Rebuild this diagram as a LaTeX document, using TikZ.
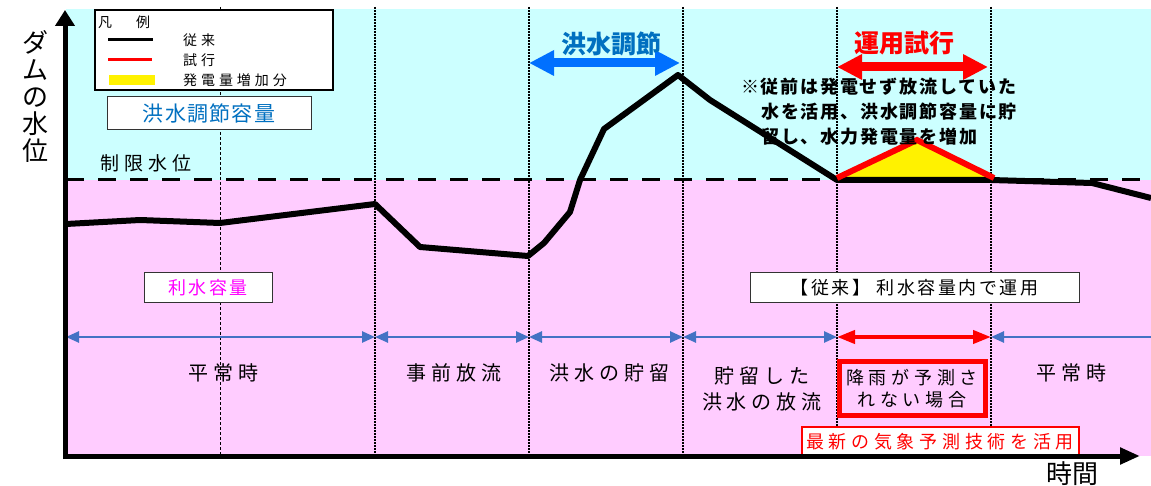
\documentclass[tikz,border=0pt]{standalone}
\usepackage{fontspec}
\setmainfont{Noto Sans CJK JP}
\usetikzlibrary{arrows.meta}

\definecolor{floodcyan}{RGB}{204,255,255}
\definecolor{waterpink}{RGB}{255,204,255}
\definecolor{floodblue}{RGB}{0,112,192}
\definecolor{arrowblue}{RGB}{0,112,255}
\definecolor{periodblue}{RGB}{68,114,196}
\definecolor{usemagenta}{RGB}{255,0,255}

\begin{document}
\begin{tikzpicture}
[
x=1pt, y=-1pt,
phase/.style={
% The font:
font=\fontsize{20}{26}\selectfont\addfontfeatures{LetterSpace=25},
% The text:
align=center,
inner sep=0pt,
},
small/.style={
% The font:
font=\fontsize{14}{16}\selectfont\addfontfeatures{LetterSpace=28},
anchor=west,
inner sep=0pt,
},
box/.style={
% The shape:
rectangle,
% The border:
draw=black!80,
line width=1pt,
% The filling:
fill=white,
inner sep=0pt,
font=\fontsize{18}{20}\selectfont\addfontfeatures{LetterSpace=14},
},
title/.style={
% The font:
font=\fontsize{25}{28}\selectfont\bfseries,
inner sep=0pt,
},
divider/.style={
% a hatched separator
black,
line width=2.5pt,
dash pattern=on 2pt off 1pt,
},
thindivider/.style={
black,
line width=0.8pt,
dash pattern=on 3pt off 2pt,
},
level/.style={
% the water level
line width=6pt,
line join=round,
},
period/.style={
periodblue,
line width=2.5pt,
{Triangle[length=13pt,width=11pt]}-{Triangle[length=13pt,width=11pt]},
},
bigarrow/.style={
line width=9pt,
{Triangle[length=25pt,width=24pt]}-{Triangle[length=25pt,width=24pt]},
},
]
    \useasboundingbox (0,0) rectangle (1151,486);

    % background
    \fill[floodcyan] (66,9) rectangle (1151,180);
    \fill[waterpink] (66,180) rectangle (1151,456);

    % dividers
    \draw[thindivider] (220,7) -- (220,456);
    \foreach \x in {375,529,683,837,991}
        \draw[divider] (\x,7) -- (\x,456);

    % limit level
    \draw[line width=3pt, dash pattern=on 18pt off 14pt] (66,180) -- (1151,180);

    % extra power generation
    \fill[yellow] (837,180) -- (917,140) -- (993,180) -- cycle;
    \draw[level] plot coordinates {(66,224) (140,220) (220,223) (375,204) (420,247)
        (528,256) (544,243) (570,212) (580,180) (604,129) (678,75) (710,100)
        (837,180) (991,180) (1092,183) (1151,198)};
    \draw[red, line width=6pt] (837,178) -- (917,140) -- (994,178);

    % legend
    \node[draw, line width=1.5pt, fill=white, minimum width=238pt, minimum height=80pt,
        inner sep=0pt] (legend) at (214,50) {};
    \node[small, font=\fontsize{14}{16}\selectfont] (legtitle) at (98,22) {凡\hspace{24pt}例};
    \draw[line width=3pt] (108,40) -- (153,40);
    \draw[red, line width=3pt] (108,60) -- (152,60);
    \fill[yellow] (109,75) rectangle (155,85);
    \node[small] (legold) at (183,40) {従来};
    \node[small] (legtrial) at (183,60) {試行};
    \node[small] (leggain) at (183,80) {発電量増加分};

    % capacities
    \node[box, minimum width=204pt, minimum height=33pt, text=floodblue,
        font=\fontsize{21}{24}\selectfont\addfontfeatures{LetterSpace=6}]
        (floodcap) at (209,113.5) {洪水調節容量};
    \node[phase, font=\fontsize{19}{22}\selectfont\addfontfeatures{LetterSpace=25}]
        (limit) at (146,163) {制限水位};
    \node[box, minimum width=128pt, minimum height=30pt, text=usemagenta]
        (watercap) at (208,288) {利水容量};
    \node[box, minimum width=329pt, minimum height=30pt]
        (oldway) at (914.5,288) {【従来】 利水容量内で運用};

    % flood control and trial
    \coordinate (f0) at (529,63);
    \coordinate (f1) at (680,63);
    \coordinate (r0) at (837,67);
    \coordinate (r1) at (988,67);
    \draw[bigarrow, arrowblue] (f0) -- (f1);
    \draw[bigarrow, red] (r0) -- (r1);
    \node[title, text=floodblue] (flood) at (611,44) {洪水調節};
    \node[title, text=red] (trial) at (904,43) {運用試行};
    \node[anchor=north west, align=left, inner sep=0pt,
        font=\fontsize{18}{25}\selectfont\bfseries\addfontfeatures{LetterSpace=10}]
        (note) at (741,78) {※従前は発電せず放流していた\\
        \hspace*{20pt}水を活用、洪水調節容量に貯\\
        \hspace*{20pt}留し、水力発電量を増加};

    % periods
    \coordinate (p0) at (66,337);
    \coordinate (p1) at (375,337);
    \coordinate (p2) at (529,337);
    \coordinate (p3) at (683,337);
    \coordinate (p4) at (837,337);
    \coordinate (p5) at (991,337);
    \coordinate (p6) at (1151,337);
    \draw[period] (p0) -- (p1);
    \draw[period] (p1) -- (p2);
    \draw[period] (p2) -- (p3);
    \draw[period] (p3) -- (p4);
    \draw[red, line width=4pt, {Triangle[length=18pt,width=13pt]}-{Triangle[length=18pt,width=13pt]}] (p4) -- (p5);
    \draw[periodblue, line width=2.5pt, {Triangle[length=13pt,width=11pt]}-] (p5) -- (p6);

    \node[phase] (normal1) at (223,373) {平常時};
    \node[phase] (prerelease) at (454,373) {事前放流};
    \node[phase] (storage) at (609,373) {洪水の貯留};
    \node[phase] (release) at (762,389) {貯留した\\洪水の放流};
    \node[phase] (normal2) at (1071,373) {平常時};
    \node[draw=red, line width=5pt, minimum width=146pt, minimum height=54pt, inner sep=0pt,
        align=center, font=\fontsize{18}{22}\selectfont\addfontfeatures{LetterSpace=26}]
        (norain) at (912,388.5) {降雨が予測さ\\れない場合};
    \node[box, draw=red, line width=2pt, minimum width=277pt, minimum height=30pt, text=red,
        font=\fontsize{18}{20}\selectfont\addfontfeatures{LetterSpace=26}]
        (forecast) at (940,441.5) {最新の気象予測技術を活用};

    % axes
    \draw[line width=5pt, -{Triangle[length=16pt,width=19pt]}] (65,459) -- (65,10);
    \draw[line width=5pt, -{Triangle[length=20pt,width=16pt]}] (63,456) -- (1140,456);
    \node[align=center, inner sep=0pt, font=\fontsize{26}{27}\selectfont]
        (ylabel) at (35,97) {ダ\\ム\\の\\水\\位};
    \node[inner sep=0pt, font=\fontsize{26}{27}\selectfont] (xlabel) at (1072,474) {時間};
\end{tikzpicture}
\end{document}
